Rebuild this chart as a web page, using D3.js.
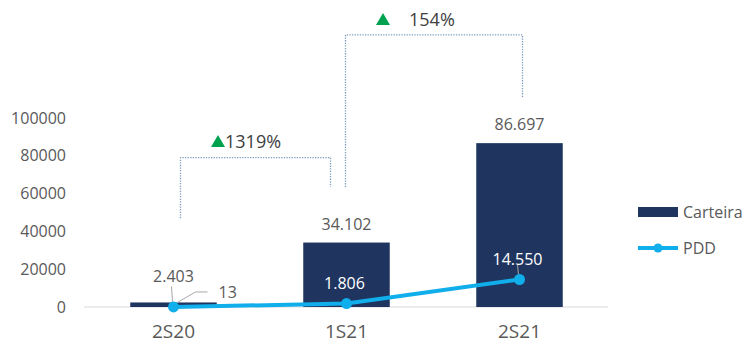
<!DOCTYPE html>
<html>
<head>
<meta charset="utf-8">
<script src="https://cdn.jsdelivr.net/npm/d3@7"></script>
<style>
  body { margin: 0; background: #fff; }
  text { font-family: "Open Sans", sans-serif; fill: #595959; }
</style>
</head>
<body>
<div class="chart"></div>
<script>
// data
var periods = ["2S20", "1S21", "2S21"];
var carteira = [2403, 34102, 86697];
var pdd = [13, 1806, 14550];
var yTicks = [0, 20000, 40000, 60000, 80000, 100000];
var growthLabels = ["1319%", "154%"];

var fmt = function(v) { return d3.format(",")(v).replace(/,/g, "."); };

var width = 748, height = 347;
var barColor = "#1f3560", lineColor = "#10aeea", green = "#00a24f", dotColor = "#7f9cc0";

var svg = d3.select(".chart").append("svg")
    .attr("width", width)
    .attr("height", height);

var x = d3.scaleBand()
    .domain(periods)
    .range([87, 606])
    .paddingInner(0.5)
    .paddingOuter(0.25);

var y = d3.scaleLinear()
    .domain([0, 100000])
    .range([307, 118]);

var cx = function(p) { return x(p) + x.bandwidth() / 2; };

// y tick labels (no axis line)
var yAxis = d3.axisLeft(y).tickValues(yTicks).tickSize(0).tickPadding(0).tickFormat(d3.format("d"));
var ya = svg.append("g")
    .attr("transform", "translate(66,0)")
    .call(yAxis);
ya.select(".domain").remove();
ya.selectAll("text")
    .style("font-family", "'Open Sans', sans-serif")
    .style("font-size", "16px")
    .attr("fill", "#595959");

// baseline
svg.append("line")
    .attr("x1", 84).attr("x2", 608)
    .attr("y1", y(0)).attr("y2", y(0))
    .attr("stroke", "#d9d9d9")
    .attr("stroke-width", 1.2);

// bars
svg.selectAll(".bar")
    .data(carteira)
    .enter().append("rect")
    .attr("class", "bar")
    .attr("x", function(d, i) { return x(periods[i]); })
    .attr("width", x.bandwidth())
    .attr("y", function(d) { return y(d); })
    .attr("height", function(d) { return y(0) - y(d); })
    .attr("fill", barColor);

// bar labels
svg.selectAll(".barlabel")
    .data(carteira)
    .enter().append("text")
    .attr("class", "barlabel")
    .attr("x", function(d, i) { return cx(periods[i]); })
    .attr("y", function(d, i) { return i == 0 ? y(d) - 20 : y(d) - 13; })
    .attr("text-anchor", "middle")
    .style("font-size", "16px")
    .text(fmt);

// PDD line
var line = d3.line()
    .x(function(d, i) { return cx(periods[i]); })
    .y(function(d) { return y(d); });

svg.append("path")
    .datum(pdd)
    .attr("d", line)
    .attr("fill", "none")
    .attr("stroke", lineColor)
    .attr("stroke-width", 4);

// leader lines for small values
var p0 = cx(periods[0]);
svg.append("path")
    .attr("d", "M" + (p0 - 2) + "," + (y(carteira[0]) - 16) + "L" + (p0 - 1) + "," + (y(pdd[0]) - 5))
    .attr("fill", "none").attr("stroke", "#a6a6a6").attr("stroke-width", 1);
svg.append("path")
    .attr("d", "M" + (p0 + 3) + "," + (y(pdd[0]) - 4) + "L" + (p0 + 22) + "," + (y(pdd[0]) - 15) + "L" + (p0 + 34) + "," + (y(pdd[0]) - 15))
    .attr("fill", "none").attr("stroke", "#a6a6a6").attr("stroke-width", 1);
svg.append("line")
    .attr("x1", cx(periods[2]) - 2).attr("x2", cx(periods[2]) - 1)
    .attr("y1", y(pdd[2]) - 15).attr("y2", y(pdd[2]) - 5)
    .attr("stroke", "#a6a6a6").attr("stroke-width", 1);

svg.selectAll(".pt")
    .data(pdd)
    .enter().append("circle")
    .attr("class", "pt")
    .attr("cx", function(d, i) { return cx(periods[i]); })
    .attr("cy", function(d) { return y(d); })
    .attr("r", 5.5)
    .attr("fill", lineColor);

// PDD labels
svg.selectAll(".pddlabel")
    .data(pdd)
    .enter().append("text")
    .attr("class", "pddlabel")
    .attr("x", function(d, i) { return i == 0 ? p0 + 45 : cx(periods[i]) - 2; })
    .attr("y", function(d, i) { return i == 0 ? y(d) - 9 : y(d) - 15; })
    .attr("text-anchor", function(d, i) { return i == 0 ? "start" : "middle"; })
    .style("font-size", "16px")
    .style("fill", function(d, i) { return i == 0 ? "#595959" : "#ffffff"; })
    .text(fmt);

// category labels
svg.selectAll(".cat")
    .data(periods)
    .enter().append("text")
    .attr("class", "cat")
    .attr("x", cx)
    .attr("y", 338)
    .attr("text-anchor", "middle")
    .style("font-size", "19px")
    .text(function(d) { return d; });

// growth brackets
function bracket(xl, xr, yt, ylb, yrb) {
  svg.append("path")
    .attr("d", "M" + xl + "," + ylb + "V" + yt + "H" + xr + "V" + yrb)
    .attr("fill", "none")
    .attr("stroke", dotColor)
    .attr("stroke-width", 1.3)
    .attr("stroke-dasharray", "1.3,1.3");
}
function growth(tx, ty, label, gap) {
  svg.append("path")
    .attr("d", "M" + tx + "," + ty + "l7,-12l7,12z")
    .attr("fill", green);
  svg.append("text")
    .attr("x", tx + 14 + gap)
    .attr("y", ty + 1)
    .style("font-size", "18px")
    .style("fill", "#404040")
    .text(label);
}

var c0 = cx(periods[0]), c1 = cx(periods[1]), c2 = cx(periods[2]);
bracket(c0 + 7, c1 - 16, y(79000), y(47000), y(63500));
growth(211, 147, growthLabels[0], 0);
bracket(c1 - 1, c2 + 3, y(144000), y(63500), y(111000));
growth(376, 25, growthLabels[1], 19);

// legend
svg.append("rect")
    .attr("x", 638).attr("y", 207)
    .attr("width", 40).attr("height", 10)
    .attr("fill", barColor);
svg.append("text")
    .attr("x", 683).attr("y", 212)
    .attr("dy", "0.35em")
    .style("font-size", "16px")
    .text("Carteira");
svg.append("line")
    .attr("x1", 638).attr("x2", 678)
    .attr("y1", 248).attr("y2", 248)
    .attr("stroke", lineColor).attr("stroke-width", 4);
svg.append("circle")
    .attr("cx", 658).attr("cy", 248).attr("r", 4.5)
    .attr("fill", lineColor);
svg.append("text")
    .attr("x", 683).attr("y", 248)
    .attr("dy", "0.35em")
    .style("font-size", "16px")
    .text("PDD");
</script>
</body>
</html>
